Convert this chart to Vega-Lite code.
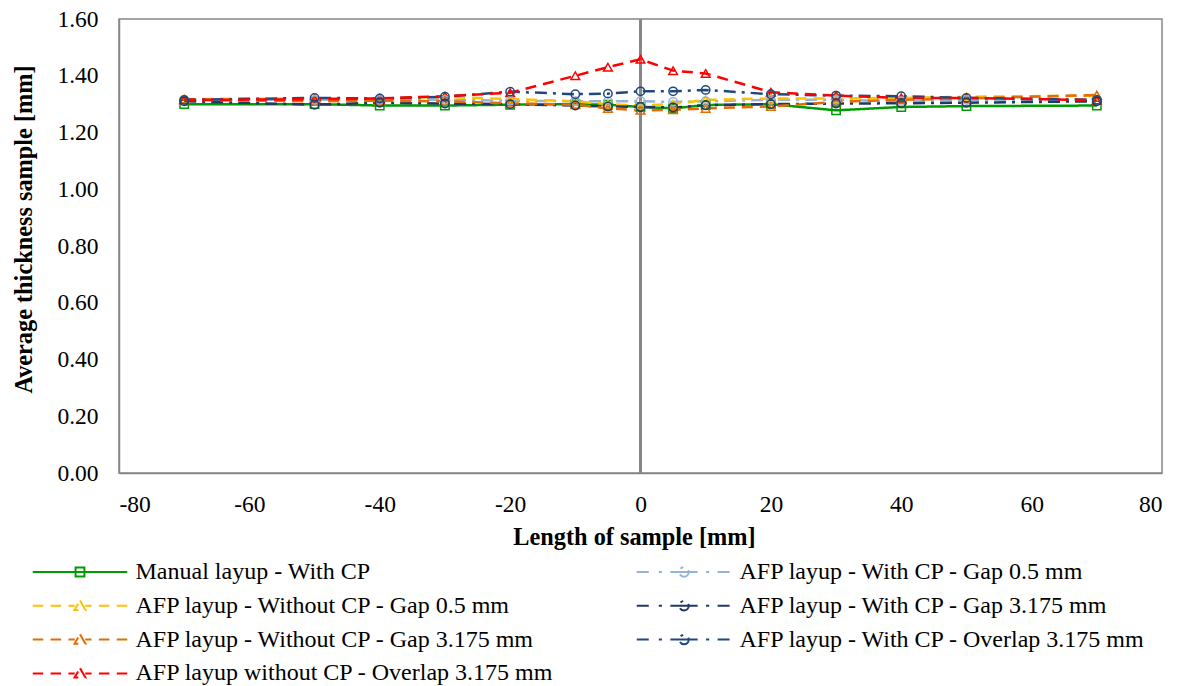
{
  "$schema": "https://vega.github.io/schema/vega-lite/v6.json",
  "width": 1043,
  "height": 454,
  "autosize": {"type": "none"},
  "padding": {"left": 119, "top": 19, "right": 25, "bottom": 213},
  "background": "white",
  "config": {
    "font": "Liberation Serif",
    "view": {"stroke": "#868686", "strokeWidth": 1.5},
    "axis": {
      "labelFont": "Liberation Serif",
      "labelFontSize": 23.5,
      "labelColor": "#000000",
      "titleFont": "Liberation Serif",
      "titleFontSize": 24.3,
      "titleFontWeight": "bold",
      "titleColor": "#000000",
      "grid": false,
      "tickSize": 0,
      "domainColor": "#868686",
      "domainWidth": 1.5
    },
    "legend": {
      "orient": "none",
      "legendX": -51,
      "legendY": 541,
      "columns": 2,
      "columnPadding": 77,
      "rowPadding": 9.8,
      "labelFont": "Liberation Serif",
      "labelFontSize": 24,
      "labelColor": "#000000",
      "labelOffset": 43.5,
      "labelLimit": 600,
      "symbolSize": 441,
      "symbolStrokeWidth": 2,
      "symbolOpacity": 1,
      "symbolFillColor": "transparent"
    }
  },
  "data": {
    "values": [
      {"series": "Manual layup - With CP", "x": -70, "y": 1.300},
      {"series": "Manual layup - With CP", "x": -50, "y": 1.300},
      {"series": "Manual layup - With CP", "x": -40, "y": 1.295},
      {"series": "Manual layup - With CP", "x": -30, "y": 1.295},
      {"series": "Manual layup - With CP", "x": -20, "y": 1.298},
      {"series": "Manual layup - With CP", "x": -10, "y": 1.300},
      {"series": "Manual layup - With CP", "x": -5, "y": 1.298},
      {"series": "Manual layup - With CP", "x": 0, "y": 1.290},
      {"series": "Manual layup - With CP", "x": 5, "y": 1.285},
      {"series": "Manual layup - With CP", "x": 10, "y": 1.297},
      {"series": "Manual layup - With CP", "x": 20, "y": 1.300},
      {"series": "Manual layup - With CP", "x": 30, "y": 1.278},
      {"series": "Manual layup - With CP", "x": 40, "y": 1.290},
      {"series": "Manual layup - With CP", "x": 50, "y": 1.293},
      {"series": "Manual layup - With CP", "x": 70, "y": 1.295},

      {"series": "AFP layup - With CP - Gap 0.5 mm", "x": -70, "y": 1.315},
      {"series": "AFP layup - With CP - Gap 0.5 mm", "x": -50, "y": 1.315},
      {"series": "AFP layup - With CP - Gap 0.5 mm", "x": -40, "y": 1.315},
      {"series": "AFP layup - With CP - Gap 0.5 mm", "x": -30, "y": 1.315},
      {"series": "AFP layup - With CP - Gap 0.5 mm", "x": -20, "y": 1.312},
      {"series": "AFP layup - With CP - Gap 0.5 mm", "x": -10, "y": 1.310},
      {"series": "AFP layup - With CP - Gap 0.5 mm", "x": -5, "y": 1.310},
      {"series": "AFP layup - With CP - Gap 0.5 mm", "x": 0, "y": 1.310},
      {"series": "AFP layup - With CP - Gap 0.5 mm", "x": 5, "y": 1.308},
      {"series": "AFP layup - With CP - Gap 0.5 mm", "x": 10, "y": 1.310},
      {"series": "AFP layup - With CP - Gap 0.5 mm", "x": 20, "y": 1.315},
      {"series": "AFP layup - With CP - Gap 0.5 mm", "x": 30, "y": 1.315},
      {"series": "AFP layup - With CP - Gap 0.5 mm", "x": 40, "y": 1.310},
      {"series": "AFP layup - With CP - Gap 0.5 mm", "x": 50, "y": 1.315},
      {"series": "AFP layup - With CP - Gap 0.5 mm", "x": 70, "y": 1.315},

      {"series": "AFP layup - Without CP - Gap 0.5 mm", "x": -70, "y": 1.318},
      {"series": "AFP layup - Without CP - Gap 0.5 mm", "x": -50, "y": 1.320},
      {"series": "AFP layup - Without CP - Gap 0.5 mm", "x": -40, "y": 1.320},
      {"series": "AFP layup - Without CP - Gap 0.5 mm", "x": -30, "y": 1.325},
      {"series": "AFP layup - Without CP - Gap 0.5 mm", "x": -20, "y": 1.318},
      {"series": "AFP layup - Without CP - Gap 0.5 mm", "x": -10, "y": 1.310},
      {"series": "AFP layup - Without CP - Gap 0.5 mm", "x": -5, "y": 1.300},
      {"series": "AFP layup - Without CP - Gap 0.5 mm", "x": 0, "y": 1.295},
      {"series": "AFP layup - Without CP - Gap 0.5 mm", "x": 5, "y": 1.300},
      {"series": "AFP layup - Without CP - Gap 0.5 mm", "x": 10, "y": 1.315},
      {"series": "AFP layup - Without CP - Gap 0.5 mm", "x": 20, "y": 1.320},
      {"series": "AFP layup - Without CP - Gap 0.5 mm", "x": 30, "y": 1.320},
      {"series": "AFP layup - Without CP - Gap 0.5 mm", "x": 40, "y": 1.322},
      {"series": "AFP layup - Without CP - Gap 0.5 mm", "x": 50, "y": 1.326},
      {"series": "AFP layup - Without CP - Gap 0.5 mm", "x": 70, "y": 1.330},

      {"series": "AFP layup - With CP - Gap 3.175 mm", "x": -70, "y": 1.310},
      {"series": "AFP layup - With CP - Gap 3.175 mm", "x": -50, "y": 1.298},
      {"series": "AFP layup - With CP - Gap 3.175 mm", "x": -40, "y": 1.305},
      {"series": "AFP layup - With CP - Gap 3.175 mm", "x": -30, "y": 1.302},
      {"series": "AFP layup - With CP - Gap 3.175 mm", "x": -20, "y": 1.300},
      {"series": "AFP layup - With CP - Gap 3.175 mm", "x": -10, "y": 1.295},
      {"series": "AFP layup - With CP - Gap 3.175 mm", "x": -5, "y": 1.292},
      {"series": "AFP layup - With CP - Gap 3.175 mm", "x": 0, "y": 1.290},
      {"series": "AFP layup - With CP - Gap 3.175 mm", "x": 5, "y": 1.288},
      {"series": "AFP layup - With CP - Gap 3.175 mm", "x": 10, "y": 1.296},
      {"series": "AFP layup - With CP - Gap 3.175 mm", "x": 20, "y": 1.300},
      {"series": "AFP layup - With CP - Gap 3.175 mm", "x": 30, "y": 1.302},
      {"series": "AFP layup - With CP - Gap 3.175 mm", "x": 40, "y": 1.303},
      {"series": "AFP layup - With CP - Gap 3.175 mm", "x": 50, "y": 1.305},
      {"series": "AFP layup - With CP - Gap 3.175 mm", "x": 70, "y": 1.310},

      {"series": "AFP layup - Without CP - Gap 3.175 mm", "x": -70, "y": 1.315},
      {"series": "AFP layup - Without CP - Gap 3.175 mm", "x": -50, "y": 1.310},
      {"series": "AFP layup - Without CP - Gap 3.175 mm", "x": -40, "y": 1.312},
      {"series": "AFP layup - Without CP - Gap 3.175 mm", "x": -30, "y": 1.310},
      {"series": "AFP layup - Without CP - Gap 3.175 mm", "x": -20, "y": 1.303},
      {"series": "AFP layup - Without CP - Gap 3.175 mm", "x": -10, "y": 1.298},
      {"series": "AFP layup - Without CP - Gap 3.175 mm", "x": -5, "y": 1.285},
      {"series": "AFP layup - Without CP - Gap 3.175 mm", "x": 0, "y": 1.278},
      {"series": "AFP layup - Without CP - Gap 3.175 mm", "x": 5, "y": 1.280},
      {"series": "AFP layup - Without CP - Gap 3.175 mm", "x": 10, "y": 1.285},
      {"series": "AFP layup - Without CP - Gap 3.175 mm", "x": 20, "y": 1.292},
      {"series": "AFP layup - Without CP - Gap 3.175 mm", "x": 30, "y": 1.308},
      {"series": "AFP layup - Without CP - Gap 3.175 mm", "x": 40, "y": 1.315},
      {"series": "AFP layup - Without CP - Gap 3.175 mm", "x": 50, "y": 1.320},
      {"series": "AFP layup - Without CP - Gap 3.175 mm", "x": 70, "y": 1.332},

      {"series": "AFP layup - With CP - Overlap 3.175 mm", "x": -70, "y": 1.315},
      {"series": "AFP layup - With CP - Overlap 3.175 mm", "x": -50, "y": 1.322},
      {"series": "AFP layup - With CP - Overlap 3.175 mm", "x": -40, "y": 1.320},
      {"series": "AFP layup - With CP - Overlap 3.175 mm", "x": -30, "y": 1.326},
      {"series": "AFP layup - With CP - Overlap 3.175 mm", "x": -20, "y": 1.344},
      {"series": "AFP layup - With CP - Overlap 3.175 mm", "x": -10, "y": 1.335},
      {"series": "AFP layup - With CP - Overlap 3.175 mm", "x": -5, "y": 1.337},
      {"series": "AFP layup - With CP - Overlap 3.175 mm", "x": 0, "y": 1.345},
      {"series": "AFP layup - With CP - Overlap 3.175 mm", "x": 5, "y": 1.345},
      {"series": "AFP layup - With CP - Overlap 3.175 mm", "x": 10, "y": 1.350},
      {"series": "AFP layup - With CP - Overlap 3.175 mm", "x": 20, "y": 1.335},
      {"series": "AFP layup - With CP - Overlap 3.175 mm", "x": 30, "y": 1.330},
      {"series": "AFP layup - With CP - Overlap 3.175 mm", "x": 40, "y": 1.328},
      {"series": "AFP layup - With CP - Overlap 3.175 mm", "x": 50, "y": 1.322},
      {"series": "AFP layup - With CP - Overlap 3.175 mm", "x": 70, "y": 1.315},

      {"series": "AFP layup without CP - Overlap 3.175 mm", "x": -70, "y": 1.315},
      {"series": "AFP layup without CP - Overlap 3.175 mm", "x": -50, "y": 1.317},
      {"series": "AFP layup without CP - Overlap 3.175 mm", "x": -40, "y": 1.320},
      {"series": "AFP layup without CP - Overlap 3.175 mm", "x": -30, "y": 1.328},
      {"series": "AFP layup without CP - Overlap 3.175 mm", "x": -20, "y": 1.340},
      {"series": "AFP layup without CP - Overlap 3.175 mm", "x": -10, "y": 1.400},
      {"series": "AFP layup without CP - Overlap 3.175 mm", "x": -5, "y": 1.430},
      {"series": "AFP layup without CP - Overlap 3.175 mm", "x": 0, "y": 1.458},
      {"series": "AFP layup without CP - Overlap 3.175 mm", "x": 5, "y": 1.418},
      {"series": "AFP layup without CP - Overlap 3.175 mm", "x": 10, "y": 1.408},
      {"series": "AFP layup without CP - Overlap 3.175 mm", "x": 20, "y": 1.342},
      {"series": "AFP layup without CP - Overlap 3.175 mm", "x": 30, "y": 1.330},
      {"series": "AFP layup without CP - Overlap 3.175 mm", "x": 40, "y": 1.322},
      {"series": "AFP layup without CP - Overlap 3.175 mm", "x": 50, "y": 1.322},
      {"series": "AFP layup without CP - Overlap 3.175 mm", "x": 70, "y": 1.314}
    ]
  },
  "encoding": {
    "x": {
      "field": "x",
      "type": "quantitative",
      "title": "Length of sample [mm]",
      "scale": {"domain": [-80, 80], "nice": false, "zero": false},
      "axis": {
        "values": [-80, -60, -40, -20, 0, 20, 40, 60, 80],
        "labelExpr": "datum.value < 0 ? '-' + abs(datum.value) : '' + datum.value",
        "labelPadding": 19,
        "titlePadding": 10,
        "titleX": 515
      }
    },
    "y": {
      "field": "y",
      "type": "quantitative",
      "title": "Average thickness sample [mm]",
      "scale": {"domain": [0, 1.6], "nice": false},
      "axis": {
        "values": [0, 0.2, 0.4, 0.6, 0.8, 1.0, 1.2, 1.4, 1.6],
        "format": ".2f",
        "labelPadding": 21,
        "titlePadding": 20,
        "titleY": 210
      }
    },
    "color": {
      "field": "series",
      "type": "nominal",
      "scale": {
        "domain": [
          "Manual layup - With CP",
          "AFP layup - Without CP - Gap 0.5 mm",
          "AFP layup - Without CP - Gap 3.175 mm",
          "AFP layup without CP - Overlap 3.175 mm",
          "AFP layup - With CP - Gap 0.5 mm",
          "AFP layup - With CP - Gap 3.175 mm",
          "AFP layup - With CP - Overlap 3.175 mm"
        ],
        "range": ["#009B00", "#FFC000", "#E36C09", "#FF0000", "#95B3D7", "#1F3864", "#1F497D"]
      },
      "legend": {"title": null}
    }
  },
  "layer": [
    {
      "description": "vertical axis line crossing at x = 0",
      "mark": {"type": "rule", "color": "#868686", "strokeWidth": 1.5},
      "encoding": {"x": {"datum": 0}, "y": null, "color": null}
    },
    {
      "mark": {"type": "line", "strokeWidth": 2.5},
      "encoding": {
        "strokeDash": {
          "field": "series",
          "type": "nominal",
          "legend": null,
          "scale": {
            "domain": [
              "Manual layup - With CP",
              "AFP layup - Without CP - Gap 0.5 mm",
              "AFP layup - Without CP - Gap 3.175 mm",
              "AFP layup without CP - Overlap 3.175 mm",
              "AFP layup - With CP - Gap 0.5 mm",
              "AFP layup - With CP - Gap 3.175 mm",
              "AFP layup - With CP - Overlap 3.175 mm"
            ],
            "range": [[1, 0], [11, 7], [11, 7], [11, 7], [12, 6, 3, 6], [12, 6, 3, 6], [12, 6, 3, 6]]
          }
        }
      }
    },
    {
      "transform": [{"filter": "datum.series === 'Manual layup - With CP'"}],
      "mark": {"type": "point", "shape": "square", "size": 70, "filled": false, "strokeWidth": 1.5, "opacity": 1}
    },
    {
      "transform": [{"filter": "indexof(datum.series, 'ithout CP') >= 0"}],
      "mark": {"type": "point", "shape": "triangle-up", "size": 75, "filled": false, "strokeWidth": 1.5, "opacity": 1}
    },
    {
      "transform": [{"filter": "indexof(datum.series, 'With CP - ') >= 0"}],
      "mark": {"type": "point", "shape": "circle", "size": 70, "filled": false, "strokeWidth": 1.5, "opacity": 1}
    },
    {
      "description": "legend glyphs: line pattern with the series marker",
      "mark": {"type": "point", "size": 441, "filled": false, "strokeWidth": 2, "opacity": 0},
      "encoding": {
        "shape": {
          "field": "series",
          "type": "nominal",
          "legend": {"title": null},
          "scale": {
            "domain": [
              "Manual layup - With CP",
              "AFP layup - Without CP - Gap 0.5 mm",
              "AFP layup - Without CP - Gap 3.175 mm",
              "AFP layup without CP - Overlap 3.175 mm",
              "AFP layup - With CP - Gap 0.5 mm",
              "AFP layup - With CP - Gap 3.175 mm",
              "AFP layup - With CP - Overlap 3.175 mm"
            ],
            "range": [
              "M-4.5,0H4.5M-0.42,-0.42H0.42V0.42H-0.42Z",
              "M-4.5,0H-3.5M-2.8,0H-1.8M-1.1,0H-0.5M0.5,0H1.1M1.8,0H2.8M3.5,0H4.5M0,-0.5L0.52,0.4H-0.52Z",
              "M-4.5,0H-3.5M-2.8,0H-1.8M-1.1,0H-0.5M0.5,0H1.1M1.8,0H2.8M3.5,0H4.5M0,-0.5L0.52,0.4H-0.52Z",
              "M-4.5,0H-3.5M-2.8,0H-1.8M-1.1,0H-0.5M0.5,0H1.1M1.8,0H2.8M3.5,0H4.5M0,-0.5L0.52,0.4H-0.52Z",
              "M-4.5,0H-3.2M-2.4,0H-2.1M-1.3,0H-0.45M0.45,0H1.3M2.1,0H2.4M3.2,0H4.5M0.45,0A0.45,0.45 0 1 1 -0.45,0A0.45,0.45 0 1 1 0.45,0ZM-0.45,0H0.45",
              "M-4.5,0H-3.2M-2.4,0H-2.1M-1.3,0H-0.45M0.45,0H1.3M2.1,0H2.4M3.2,0H4.5M0.45,0A0.45,0.45 0 1 1 -0.45,0A0.45,0.45 0 1 1 0.45,0ZM-0.45,0H0.45",
              "M-4.5,0H-3.2M-2.4,0H-2.1M-1.3,0H-0.45M0.45,0H1.3M2.1,0H2.4M3.2,0H4.5M0.45,0A0.45,0.45 0 1 1 -0.45,0A0.45,0.45 0 1 1 0.45,0ZM-0.45,0H0.45"
            ]
          }
        }
      }
    }
  ]
}
